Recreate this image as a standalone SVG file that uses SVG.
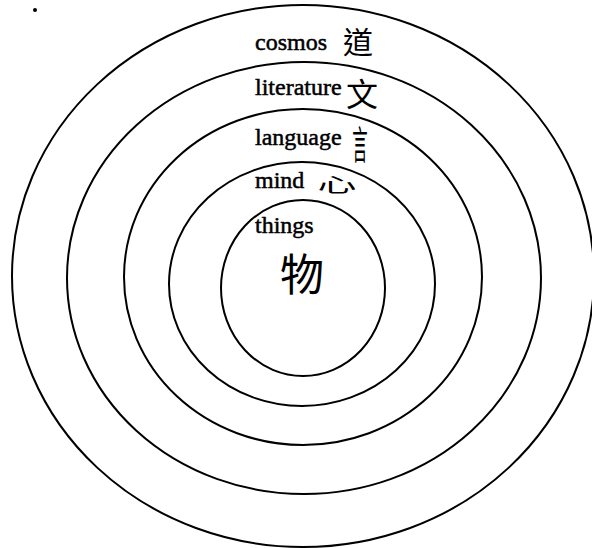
<svg xmlns="http://www.w3.org/2000/svg" width="592" height="548" viewBox="0 0 592 548">
<style>
.ring{fill:none;stroke:#000;stroke-width:2}
.lbl{font-family:"Liberation Serif","Times New Roman",serif;font-size:24px;fill:#000;stroke:#000;stroke-width:0.5}
.cjk{font-family:"Noto Sans CJK TC","Noto Sans CJK SC",sans-serif;fill:#000;text-anchor:middle}
</style>
<rect width="592" height="548" fill="#fff"/>
<circle cx="35" cy="10" r="2" fill="#000"/>
<g id="rings">
<g id="cosmos"><ellipse class="ring" cx="303" cy="276" rx="291" ry="271"/></g>
<g id="literature"><ellipse class="ring" cx="304" cy="278" rx="237" ry="216"/></g>
<g id="language"><ellipse class="ring" cx="303" cy="277" rx="179" ry="168"/></g>
<g id="mind"><ellipse class="ring" cx="302" cy="284" rx="133" ry="122"/></g>
<g id="things"><ellipse class="ring" cx="303" cy="288" rx="82" ry="88"/></g>
</g>
<g id="labels">
<text class="lbl" x="255" y="50">cosmos</text>
<text class="cjk" x="358" y="53" font-size="30">道</text>
<text class="lbl" x="255" y="95">literature</text>
<text class="cjk" x="362" y="106" font-size="32">文</text>
<text class="lbl" x="255" y="145">language</text>
<text class="cjk" font-size="28" transform="translate(360,159) scale(0.55,1.4)">言</text>
<text class="lbl" x="255" y="188">mind</text>
<text class="cjk" font-size="30" transform="translate(337,192) scale(1.3,0.65)">心</text>
<text class="lbl" x="255" y="233">things</text>
<text class="cjk" x="302" y="291" font-size="44">物</text>
</g>
</svg>
